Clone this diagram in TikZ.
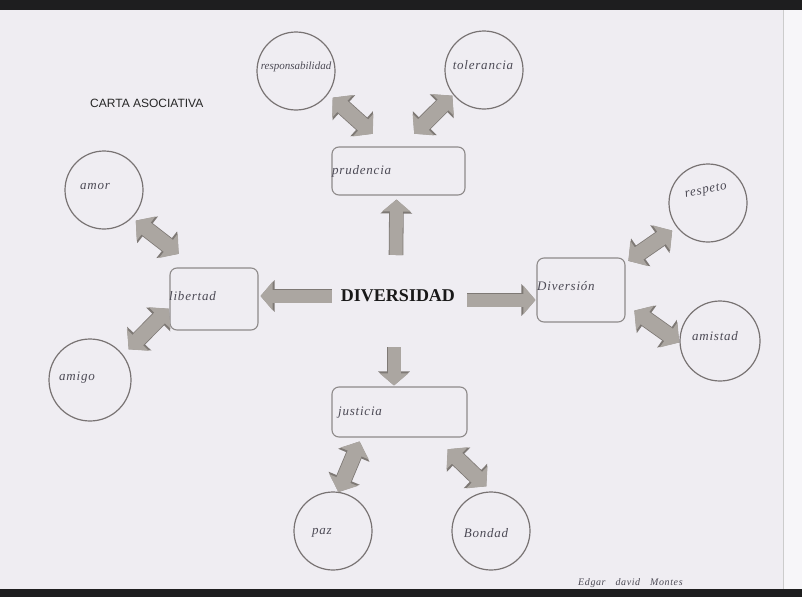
\documentclass[tikz,border=0pt]{standalone}
\usepackage{fontspec}
\setmainfont{Liberation Serif}
\newfontfamily\handA{Liberation Serif}[LetterSpace=6]
\newfontfamily\handB{Liberation Serif}
\newfontfamily\sansA{Liberation Sans}
\usetikzlibrary{arrows.meta,calc}
\definecolor{paper}{HTML}{EFEDF2}
\definecolor{paperR}{HTML}{F7F6F9}
\definecolor{band}{HTML}{1E1E1F}
\definecolor{ink}{HTML}{4C4A55}
\definecolor{circ}{HTML}{787373}
\definecolor{boxc}{HTML}{8E8A8A}
\definecolor{afill}{HTML}{ABA6A1}
\definecolor{aedge}{HTML}{7E7975}
\tikzset{
  circ/.style={circle, draw=circ, line width=1.2pt, minimum size=78pt, inner sep=0pt},
  boxn/.style={rectangle, rounded corners=7pt, draw=boxc, line width=1.1pt, inner sep=0pt},
  hand/.style={text=ink, font=\handA\itshape\fontsize{13}{14}\selectfont, inner sep=0pt},
  handtight/.style={text=ink, font=\handB\itshape\fontsize{11}{12}\selectfont, inner sep=0pt},
  dbl/.style={afill, line width=15pt, shorten <=1pt, shorten >=1pt,
    arrows={Triangle[length=13pt,width=30pt]-Triangle[length=13pt,width=30pt]},
    preaction={draw=aedge, line width=16.6pt,
      arrows={Triangle[length=15pt,width=33pt]-Triangle[length=15pt,width=33pt]}}},
  sgl/.style={afill, line width=13pt, shorten >=1pt,
    arrows={-Triangle[length=12pt,width=28pt]},
    preaction={draw=aedge, line width=14.6pt,
      arrows={-Triangle[length=14pt,width=31pt]}}},
}
\begin{document}
\begin{tikzpicture}[x=1pt,y=-1pt]
\useasboundingbox (0,0) rectangle (802,597);
\fill[paper] (0,0) rectangle (802,597);
\fill[paperR] (783,0) rectangle (802,597);
\draw[color=gray!40, line width=0.8pt] (783,10) -- (783,589);

% title
\node[text=black!85, font=\sansA\fontsize{12}{14}\selectfont, anchor=west, inner sep=0pt] (title) at (90,103) {CARTA ASOCIATIVA};

% center
\node[font=\bfseries\fontsize{18}{20}\selectfont, text=black!90, inner sep=0pt] (div) at (398,296) {DIVERSIDAD};

% boxes
\node[boxn, minimum width=133pt, minimum height=48pt] (prud) at (398.5,171) {};
\node[boxn, minimum width=88pt, minimum height=62pt] (lib) at (214,299) {};
\node[boxn, minimum width=88pt, minimum height=64pt] (divers) at (581,290) {};
\node[boxn, minimum width=135pt, minimum height=50pt] (just) at (399.5,412) {};

\node[hand, anchor=west] (tprud) at (332,171) {prudencia};
\node[hand, anchor=west] (tlib) at (169,296) {libertad};
\node[hand, anchor=west] (tdivers) at (537,286) {Diversión};
\node[hand, anchor=west] (tjust) at (338,413) {justicia};

% circles
\node[circ] (resp) at (296,71) {};
\node[circ] (tol) at (484,70) {};
\node[circ] (amor) at (104,190) {};
\node[circ, minimum size=82pt] (amigo) at (90,380) {};
\node[circ] (respeto) at (708,203) {};
\node[circ, minimum size=80pt] (amistad) at (720,341) {};
\node[circ] (paz) at (333,531) {};
\node[circ] (bondad) at (491,531) {};

\node[handtight] (tresp) at (296,67) {responsabilidad};
\node[hand] (ttol) at (483,65) {tolerancia};
\node[hand] (tamor) at (95,187) {amor};
\node[hand] (tamigo) at (77,378) {amigo};
\node[hand, rotate=12] (trespeto) at (706,191) {respeto};
\node[hand] (tamistad) at (715,336) {amistad};
\node[hand] (tpaz) at (322,533) {paz};
\node[hand] (tbondad) at (486,533) {Bondad};

% single arrows from the centre
\draw[sgl] ($(div.center)+(-2,-41)$) -- ($(prud.south)+(-2,3)$);
\draw[sgl] ($(div.west)+(-9,0)$) -- ($(lib.east)+(1,-3)$);
\draw[sgl] ($(div.east)+(12,4)$) -- ($(divers.west)+(0,10)$);
\draw[sgl] ($(div.center)+(-4,51)$) -- ($(just.north)+(-5.5,0)$);

% double arrows
\draw[dbl] ($(resp.center)+(36,26)$) -- ($(prud.north)+(-25,-12)$);
\draw[dbl] ($(tol.center)+(-31,25)$) -- ($(prud.north)+(15,-12)$);
\draw[dbl] ($(amor.center)+(31,30)$) -- ($(lib.north west)+(10,-13)$);
\draw[dbl] ($(amigo.center)+(38,-30)$) -- ($(lib.west)+(0,9)$);
\draw[dbl] ($(divers.north east)+(2,4)$) -- ($(respeto.center)+(-35,27)$);
\draw[dbl] ($(divers.east)+(8,20)$) -- ($(amistad.center)+(-40,2)$);
\draw[dbl] ($(paz.center)+(5,-38)$) -- ($(just.south)+(-39.5,3)$);
\draw[dbl] ($(just.south)+(47.5,11)$) -- ($(bondad.center)+(-4,-44)$);

% signature
\node[hand, font=\handA\itshape\fontsize{10}{11}\selectfont, anchor=west] (sig) at (578,583) {Edgar\quad david\quad Montes};

% scan bands
\fill[band] (0,0) rectangle (802,10);
\fill[band] (0,589) rectangle (802,597);
\end{tikzpicture}
\end{document}
